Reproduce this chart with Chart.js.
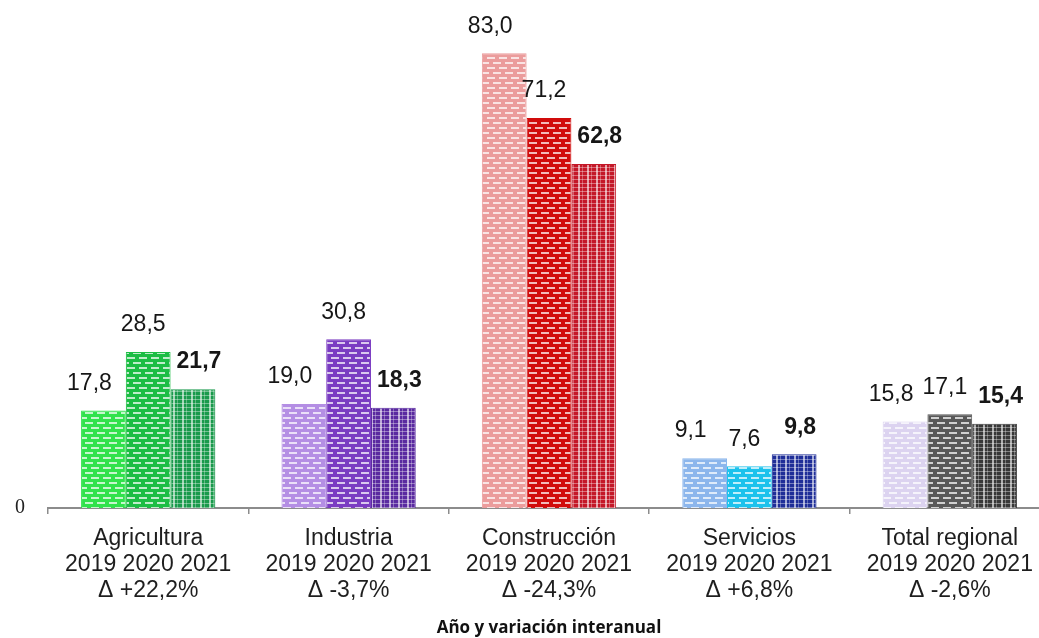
<!DOCTYPE html>
<html>
<head>
<meta charset="utf-8">
<script src="https://cdn.jsdelivr.net/npm/chart.js@4.4.0/dist/chart.umd.min.js"></script>
<style>
html,body{margin:0;padding:0;background:#fff;overflow:hidden;}
#wrap{width:1039px;height:638px;overflow:hidden;}
</style>
</head>
<body>
<div id="wrap"><canvas id="c" width="1050" height="638"></canvas></div>
<script>
// ---- data ----
const categories = ['Agricultura', 'Industria', 'Construcción', 'Servicios', 'Total regional'];
const years = ['2019', '2020', '2021'];
const values2019 = [17.8, 19.0, 83.0, 9.1, 15.8];
const values2020 = [28.5, 30.8, 71.2, 7.6, 17.1];
const values2021 = [21.7, 18.3, 62.8, 9.8, 15.4];
const variations = ['Δ +22,2%', 'Δ -3,7%', 'Δ -24,3%', 'Δ +6,8%', 'Δ -2,6%'];
const yTicks = [0];
const axisTitle = 'Año y variación interanual';

// ---- styles ----
const colors2019 = ['#30e24c', '#b48ee4', '#eb9c9c', '#8cb6ec', '#dcd3f0'];
const colors2020 = ['#1cbd44', '#7a3cc2', '#d10c0c', '#1cc2ec', '#585858'];
const colors2021 = ['#1a9a4c', '#5a2aa0', '#c41828', '#1f2e98', '#383838'];

function brick(color) {
  const c = document.createElement('canvas');
  c.width = 12; c.height = 10;
  const g = c.getContext('2d');
  g.fillStyle = color; g.fillRect(0, 0, 12, 10);
  g.fillStyle = 'rgba(255,255,255,0.72)';
  g.fillRect(1, 2, 8, 2);
  g.fillRect(7, 7, 8, 2);
  g.fillRect(-5, 7, 8, 2);
  return g.createPattern(c, 'repeat');
}
function weave(color) {
  const c = document.createElement('canvas');
  c.width = 9; c.height = 4;
  const g = c.getContext('2d');
  g.fillStyle = color; g.fillRect(0, 0, 9, 4);
  g.fillStyle = 'rgba(255,255,255,0.6)';
  g.fillRect(2, 0, 2, 4);
  g.fillStyle = 'rgba(255,255,255,0.3)';
  g.fillRect(6, 0, 1, 4);
  g.fillStyle = 'rgba(255,255,255,0.38)';
  g.fillRect(0, 3, 9, 1);
  return g.createPattern(c, 'repeat');
}

const fmt = v => v.toFixed(1).replace('.', ',');

const valueLabels = {
  id: 'valueLabels',
  afterDatasetsDraw(chart) {
    const ctx = chart.ctx;
    const dx = [-14, -5, 6];
    chart.data.datasets.forEach((ds, di) => {
      const meta = chart.getDatasetMeta(di);
      meta.data.forEach((bar, i) => {
        ctx.save();
        ctx.font = (di === 2 ? 'bold ' : '') + '23px "Liberation Sans", Arial, sans-serif';
        ctx.fillStyle = '#161616';
        ctx.textAlign = 'center';
        ctx.textBaseline = 'middle';
        ctx.fillText(fmt(ds.data[i]), bar.x + dx[di], bar.y - 27);
        ctx.restore();
      });
    });
  }
};

const seriesValues = [values2019, values2020, values2021];
const seriesColors = [colors2019, colors2020, colors2021];

new Chart(document.getElementById('c'), {
  type: 'bar',
  data: {
    labels: categories.map((c, i) => [c, years.join(' '), variations[i]]),
    datasets: years.map((y, k) => ({
      label: y,
      data: seriesValues[k],
      backgroundColor: seriesColors[k].map(col => k === 2 ? weave(col) : brick(col)),
      borderColor: seriesColors[k],
      borderWidth: 1,
      categoryPercentage: 0.67,
      barPercentage: 1.0
    }))
  },
  options: {
    responsive: false,
    animation: false,
    layout: { padding: { left: 0, right: 0, top: 15, bottom: 0 } },
    plugins: { legend: { display: false }, tooltip: { enabled: false } },
    scales: {
      x: {
        grid: { display: true, drawOnChartArea: false, drawTicks: true, tickLength: 6, color: '#8c8c8c', lineWidth: 1.5, offset: true },
        border: { display: true, color: '#8c8c8c', width: 2 },
        ticks: {
          color: '#1e1e1e',
          padding: 11,
          maxRotation: 0,
          autoSkip: false,
          font: { family: '"Liberation Sans", Arial, sans-serif', size: 23, lineHeight: 1.15 }
        },
        title: {
          display: true,
          text: axisTitle,
          color: '#111',
          font: { family: '"Open Sans", sans-serif', size: 17, weight: 'bold', lineHeight: 1.2 },
          padding: { top: 0, bottom: 0 }
        },
        afterFit: s => { s.height = 130; s.paddingLeft = 0; s.paddingRight = 0; }
      },
      y: {
        min: 0,
        max: 90,
        grid: { display: false, drawTicks: false },
        border: { display: false },
        ticks: {
          color: '#222',
          padding: 23,
          font: { family: '"Liberation Serif", "Times New Roman", serif', size: 20 }
        },
        afterBuildTicks: s => { s.ticks = yTicks.map(v => ({ value: v })); },
        afterFit: s => { s.width = 48; s.paddingTop = 0; s.paddingBottom = 0; }
      }
    }
  },
  plugins: [valueLabels]
});
</script>
</body>
</html>
